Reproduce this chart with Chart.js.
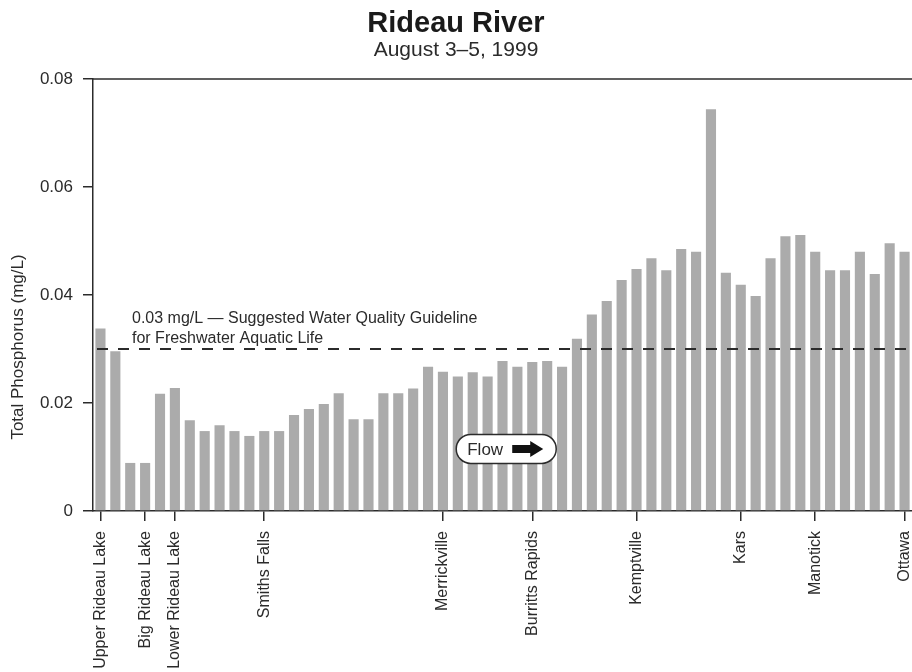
<!DOCTYPE html>
<html>
<head>
<meta charset="utf-8">
<title>Rideau River</title>
<script src="https://cdn.jsdelivr.net/npm/chart.js@4"></script>
<style>
  html, body { margin: 0; padding: 0; background: #fff; }
  #wrap { width: 912px; height: 672px; }
</style>
</head>
<body>
<div id="wrap"><canvas id="phosChart"></canvas></div>
<script>
// sampling sites, upstream -> downstream; only the named ones get a label
const stationLabels = [
  'Upper Rideau Lake', '', '', 'Big Rideau Lake', '', 'Lower Rideau Lake', '', '', '', '',
  '', 'Smiths Falls', '', '', '', '', '', '', '', '',
  '', '', '', 'Merrickville', '', '', '', '', '', 'Burritts Rapids',
  '', '', '', '', '', '', 'Kemptville', '', '', '',
  '', '', '', 'Kars', '', '', '', '', 'Manotick', '',
  '', '', '', '', 'Ottawa'
];

// total phosphorus, mg/L
const phosphorus = [
  0.0338, 0.0296, 0.0089, 0.0089, 0.0217, 0.0228, 0.0168, 0.0148, 0.0159, 0.0148,
  0.0139, 0.0148, 0.0148, 0.0178, 0.0189, 0.0198, 0.0218, 0.0170, 0.0170, 0.0218,
  0.0218, 0.0227, 0.0267, 0.0258, 0.0249, 0.0257, 0.0249, 0.0278, 0.0267, 0.0276,
  0.0278, 0.0267, 0.0319, 0.0364, 0.0389, 0.0428, 0.0448, 0.0468, 0.0446, 0.0485,
  0.0480, 0.0744, 0.0441, 0.0419, 0.0398, 0.0468, 0.0509, 0.0511, 0.0480, 0.0446,
  0.0446, 0.0480, 0.0439, 0.0496, 0.0480
];

const guideline = 0.03;
const yTicks = [0, 0.02, 0.04, 0.06, 0.08];

const FONT = "'Liberation Sans', Arial, sans-serif";
const INK = '#2b2b2b';

const extras = {
  id: 'extras',
  afterDatasetsDraw(chart) {
    const { ctx, chartArea: a, scales: { x, y } } = chart;
    ctx.save();

    // top edge of the frame
    ctx.strokeStyle = INK;
    ctx.lineWidth = 1.5;
    ctx.beginPath();
    ctx.moveTo(a.left, a.top);
    ctx.lineTo(a.right, a.top);
    ctx.stroke();

    // guideline
    const gy = y.getPixelForValue(guideline);
    ctx.lineWidth = 2;
    ctx.setLineDash([11, 10]);
    ctx.beginPath();
    ctx.moveTo(a.left + 4, gy);
    ctx.lineTo(a.right, gy);
    ctx.stroke();
    ctx.setLineDash([]);

    ctx.fillStyle = INK;
    ctx.font = '16px ' + FONT;
    ctx.textAlign = 'left';
    ctx.textBaseline = 'alphabetic';
    ctx.fillText('0.03 mg/L \u2014 Suggested Water Quality Guideline', a.left + 39, gy - 26);
    ctx.fillText('for Freshwater Aquatic Life', a.left + 39, gy - 6);

    // "Flow" pill
    const fx = x.getPixelForValue(27.25);
    const fy = y.getPixelForValue(0.0115);
    ctx.beginPath();
    ctx.roundRect(fx - 50, fy - 14.5, 100, 29, 14.5);
    ctx.fillStyle = '#fff';
    ctx.fill();
    ctx.lineWidth = 1.5;
    ctx.strokeStyle = INK;
    ctx.stroke();
    ctx.fillStyle = INK;
    ctx.font = '17px ' + FONT;
    ctx.fillText('Flow', fx - 39, fy + 6.5);
    ctx.fillStyle = '#111';
    ctx.beginPath();
    ctx.moveTo(fx + 6, fy - 4);
    ctx.lineTo(fx + 24, fy - 4);
    ctx.lineTo(fx + 24, fy - 8);
    ctx.lineTo(fx + 37, fy);
    ctx.lineTo(fx + 24, fy + 8);
    ctx.lineTo(fx + 24, fy + 4);
    ctx.lineTo(fx + 6, fy + 4);
    ctx.closePath();
    ctx.fill();

    ctx.restore();
  },
  afterDraw(chart) {
    const { ctx, chartArea: a } = chart;
    ctx.save();
    ctx.translate(18, (a.top + a.bottom) / 2 + 52);
    ctx.rotate(-Math.PI / 2);
    ctx.fillStyle = INK;
    ctx.font = '17px ' + FONT;
    ctx.textAlign = 'center';
    ctx.textBaseline = 'middle';
    ctx.fillText('Total Phosphorus (mg/L)', 0, 0);
    ctx.restore();
  }
};

new Chart(document.getElementById('phosChart'), {
  type: 'bar',
  data: {
    labels: stationLabels,
    datasets: [{
      data: phosphorus,
      backgroundColor: '#ababab',
      barPercentage: 0.68,
      categoryPercentage: 1.0
    }]
  },
  options: {
    responsive: true,
    maintainAspectRatio: false,
    animation: false,
    layout: { padding: 0 },
    plugins: {
      legend: { display: false },
      tooltip: { enabled: false },
      title: {
        display: true,
        text: 'Rideau River',
        color: '#1a1a1a',
        font: { family: FONT, size: 29, weight: 'bold', lineHeight: 1 },
        padding: { top: 9, bottom: 0 }
      },
      subtitle: {
        display: true,
        text: 'August 3\u20135, 1999',
        color: INK,
        font: { family: FONT, size: 21, lineHeight: 1 },
        padding: { top: 2, bottom: 18 }
      }
    },
    scales: {
      x: {
        offset: true,
        grid: {
          offset: false,
          drawOnChartArea: false,
          tickLength: 10,
          lineWidth: 1.5,
          color: c => stationLabels[c.index] ? INK : 'rgba(0,0,0,0)'
        },
        border: { color: INK, width: 1.5 },
        ticks: {
          autoSkip: false,
          maxRotation: 90,
          minRotation: 90,
          padding: 10,
          color: INK,
          font: { family: FONT, size: 16 }
        },
        afterFit: s => { s.height = 161; s.paddingLeft = 0; s.paddingRight = 0; }
      },
      y: {
        min: 0,
        max: 0.08,
        afterBuildTicks: s => { s.ticks = yTicks.map(v => ({ value: v })); },
        grid: { drawOnChartArea: false, tickLength: 10, lineWidth: 1.5, color: INK },
        border: { color: INK, width: 1.5 },
        ticks: { padding: 10, color: INK, font: { family: FONT, size: 17 } },
        afterFit: s => { s.width = 93; }
      }
    }
  },
  plugins: [extras]
});
</script>
</body>
</html>
